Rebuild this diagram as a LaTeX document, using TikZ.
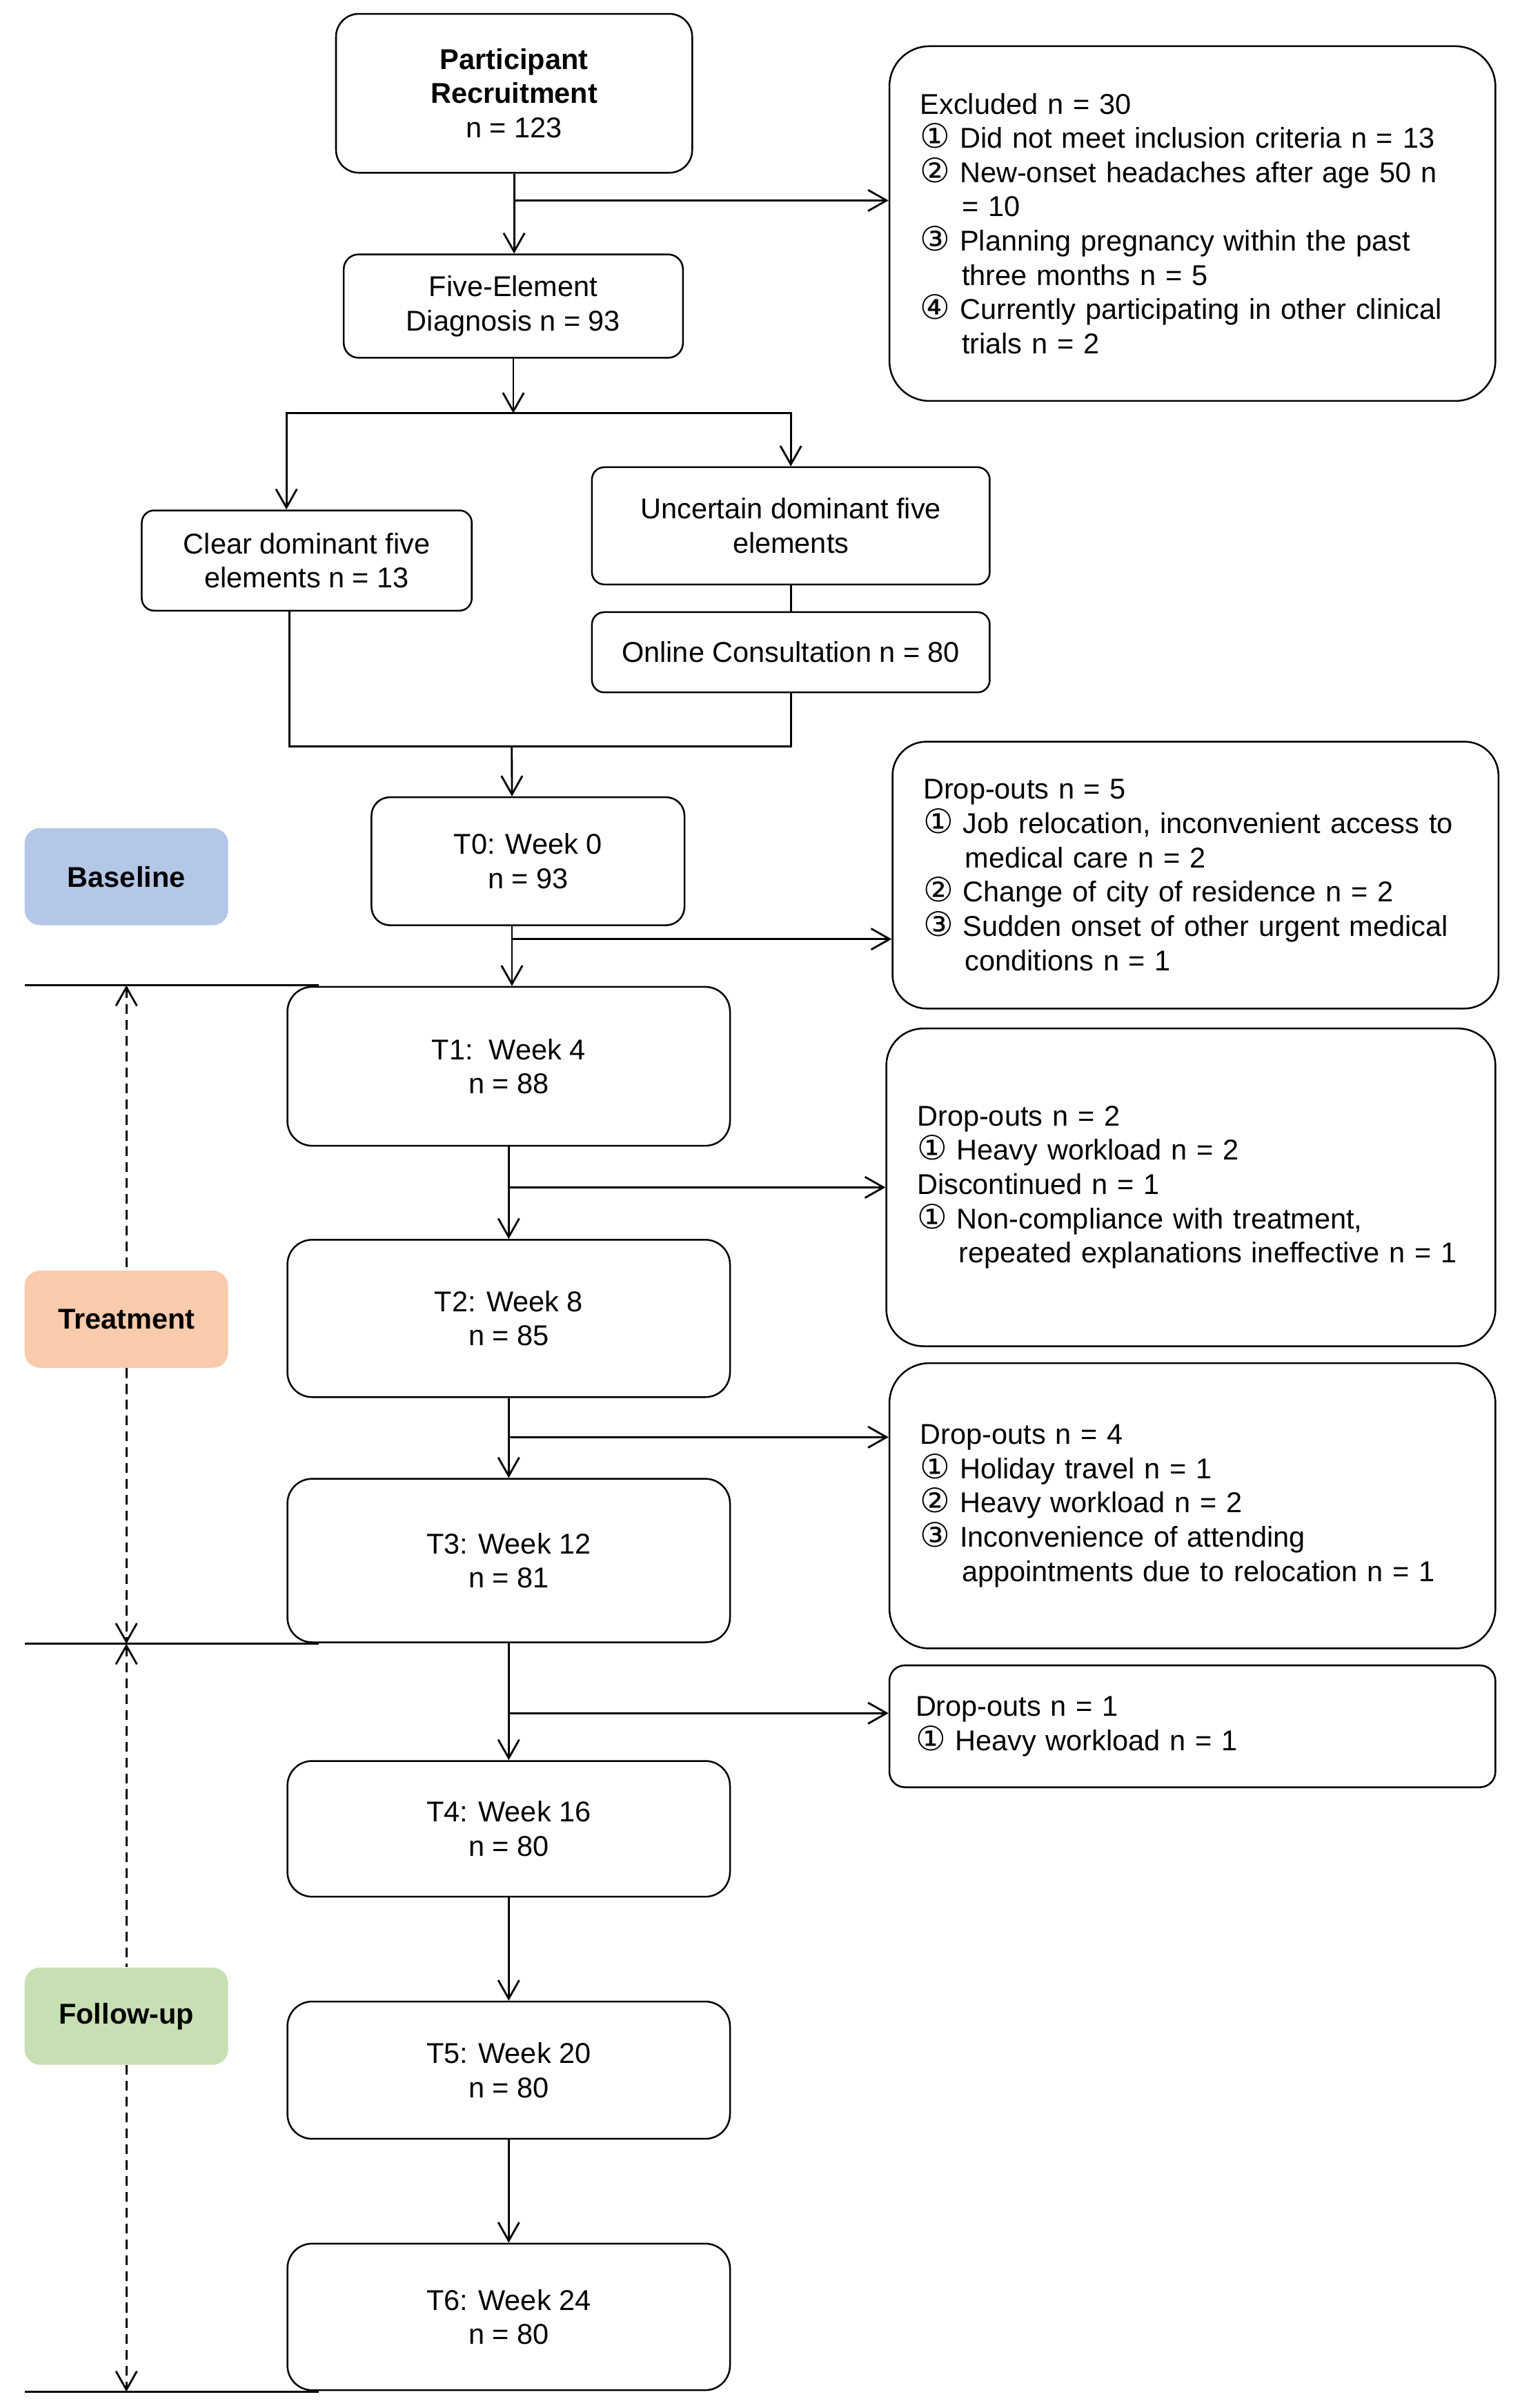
\documentclass[tikz,border=0pt]{standalone}
\usepackage{fontspec}
\setmainfont{Liberation Sans}
\newfontfamily\circfont{DejaVu Sans}
\usepackage{xcolor}
\usepackage{tikz}
\usetikzlibrary{arrows.meta, positioning}
\definecolor{baseblue}{RGB}{180,199,231}
\definecolor{treatorange}{RGB}{248,203,173}
\definecolor{followgreen}{RGB}{198,224,180}
\newcommand{\cnum}[1]{{\circfont\fontsize{15.5}{15.8}\selectfont #1}}
\newcommand{\cont}{\hspace*{0.675cm}}
\tikzstyle{box}        = [rectangle, draw=black, line width=0.8pt, inner sep=0pt, text centered]
\tikzstyle{stage}      = [box, rounded corners=0.4cm, minimum width=7.175cm]
\tikzstyle{reason}     = [rectangle, draw=black, line width=0.8pt, align=left, inner ysep=0pt]
\tikzstyle{phaselabel} = [rectangle, rounded corners=0.25cm, minimum width=3.3cm, minimum height=1.575cm, font=\fontsize{13.2}{15.8}\selectfont\bfseries]
\tikzstyle{arrow}      = [line width=0.9pt, ->, >={Straight Barb[length=3mm,width=3.4mm]}]
\tikzstyle{phase}      = [dash pattern=on 4.5pt off 2.8pt]
\tikzstyle{rule}       = [line width=0.9pt]
\tikzset{every node/.style={align=center, font=\fontsize{13.2}{15.8}\selectfont}}

\begin{document}
\begin{tikzpicture}[x=0.025cm, y=-0.025cm]
    \useasboundingbox (0,0) rectangle (986,1561.6);

    % screening
    \node[box, rounded corners=0.37cm, minimum width=5.775cm, minimum height=2.575cm] (recruit) at (333.5,60.5) {\textbf{Participant}\\\textbf{Recruitment}\\n = 123};
    \node[box, rounded corners=0.24cm, minimum width=5.5cm, minimum height=1.675cm]   (diag)    at (333,198.5) {Five-Element\\Diagnosis n = 93};
    \node[box, rounded corners=0.2cm, minimum width=5.35cm, minimum height=1.625cm]   (clear)   at (199,363.5) {Clear dominant five\\elements n = 13};
    \node[box, rounded corners=0.2cm, minimum width=6.45cm, minimum height=1.9cm]     (uncert)  at (513,341)   {Uncertain dominant five\\elements};
    \node[box, rounded corners=0.2cm, minimum width=6.45cm, minimum height=1.3cm]     (online)  at (513,423)   {Online Consultation n = 80};
    \node[reason, rounded corners=0.65cm, minimum width=9.825cm, minimum height=5.75cm, text width=8.825cm, inner xsep=0.5cm] (excl) at (773.5,145) {Excluded n = 30\\
        \cnum{①} Did not meet inclusion criteria n = 13\\
        \cnum{②} New-onset headaches after age 50 n\\
        \cont = 10\\
        \cnum{③} Planning pregnancy within the past\\
        \cont three months n = 5\\
        \cnum{④} Currently participating in other clinical\\
        \cont trials n = 2};

    % time points
    \node[box, rounded corners=0.3cm, minimum width=5.075cm, minimum height=2.075cm] (t0) at (342.5,558.5) {T0: Week 0\\n = 93};
    \node[stage, minimum height=2.575cm] (t1) at (330,691.5)  {T1:\ \ Week 4\\n = 88};
    \node[stage, minimum height=2.55cm]  (t2) at (330,855)    {T2: Week 8\\n = 85};
    \node[stage, minimum height=2.65cm]  (t3) at (330,1012)   {T3: Week 12\\n = 81};
    \node[stage, minimum height=2.2cm]   (t4) at (330,1186)   {T4: Week 16\\n = 80};
    \node[stage, minimum height=2.225cm] (t5) at (330,1342.5) {T5: Week 20\\n = 80};
    \node[stage, minimum height=2.375cm] (t6) at (330,1502.5) {T6: Week 24\\n = 80};

    % losses
    \node[reason, rounded corners=0.55cm, minimum width=9.825cm, minimum height=4.325cm, text width=8.825cm, inner xsep=0.5cm] (drop5) at (775.5,567.5) {Drop-outs n = 5\\
        \cnum{①} Job relocation, inconvenient access to\\
        \cont medical care n = 2\\
        \cnum{②} Change of city of residence n = 2\\
        \cnum{③} Sudden onset of other urgent medical\\
        \cont conditions n = 1};
    \node[reason, rounded corners=0.6cm, minimum width=9.875cm, minimum height=5.15cm, text width=8.875cm, inner xsep=0.5cm] (drop2) at (772.5,770) {Drop-outs n = 2\\
        \cnum{①} Heavy workload n = 2\\
        Discontinued n = 1\\
        \cnum{①} Non-compliance with treatment,\\
        \cont repeated explanations ineffective n = 1};
    \node[reason, rounded corners=0.65cm, minimum width=9.825cm, minimum height=4.625cm, text width=8.825cm, inner xsep=0.5cm] (drop4) at (773.5,976.5) {Drop-outs n = 4\\
        \cnum{①} Holiday travel n = 1\\
        \cnum{②} Heavy workload n = 2\\
        \cnum{③} Inconvenience of attending\\
        \cont appointments due to relocation n = 1};
    \node[reason, rounded corners=0.25cm, minimum width=9.825cm, minimum height=1.975cm, text width=8.975cm, inner xsep=0.425cm] (drop1) at (773.5,1119.5) {Drop-outs n = 1\\
        \cnum{①} Heavy workload n = 1};

    % phases
    \node[phaselabel, fill=baseblue]    (base)   at (82,568.5)  {Baseline};
    \node[phaselabel, fill=treatorange] (treat)  at (82,855.5)  {Treatment};
    \node[phaselabel, fill=followgreen] (follow) at (82,1307.5) {Follow-up};
    \coordinate (m1) at (82,639);
    \coordinate (m2) at (82,1066);
    \coordinate (m3) at (82,1551);
    \draw[rule] (16,639) -- (m1) -- (207,639);
    \draw[rule] (16,1066) -- (m2) -- (207,1066);
    \draw[rule] (16,1551) -- (m3) -- (207,1551);
    \draw[arrow, phase, <-] (m1) -- (treat.north);
    \draw[arrow, phase]     (treat.south) -- (m2);
    \draw[arrow, phase, <-] (m2) -- (follow.north);
    \draw[arrow, phase]     (follow.south) -- (m3);

    % connectors
    \coordinate (ex)    at (333,130);
    \coordinate (split) at (333,268);
    \coordinate (merge) at (332,484);
    \coordinate (d0)    at (332,609);
    \coordinate (d2)    at (330,932);
    \coordinate (d3)    at (330,1111);
    \draw [arrow] (recruit.south) -- (recruit.south |- diag.north);
    \draw [arrow] (ex) -- (ex -| excl.west);
    \draw [arrow] (diag.south) -- (split);
    \draw [arrow] (split) -| ([xshift=-0.33cm]clear.north);
    \draw [arrow] (split) -| (uncert.north);
    \draw [rule]  (uncert) -- (online);
    \draw [rule]  ([xshift=-0.28cm]clear.south) |- (merge) -| (online.south);
    \draw [arrow] (merge) -- ([xshift=-0.26cm]t0.north);
    \draw [arrow] ([xshift=-0.26cm]t0.south) -- ([xshift=-0.26cm]t0.south |- t1.north);
    \draw [arrow] (d0) -- (d0 -| drop5.west);
    \draw [arrow] (t1) -- (t2);
    \draw [arrow] (t1.south |- drop2.west) -- (drop2.west);
    \draw [arrow] (t2) -- (t3);
    \draw [arrow] (d2) -- (d2 -| drop4.west);
    \draw [arrow] (t3) -- (t4);
    \draw [arrow] (d3) -- (d3 -| drop1.west);
    \draw [arrow] (t4) -- (t5);
    \draw [arrow] (t5) -- (t6);
\end{tikzpicture}
\end{document}
